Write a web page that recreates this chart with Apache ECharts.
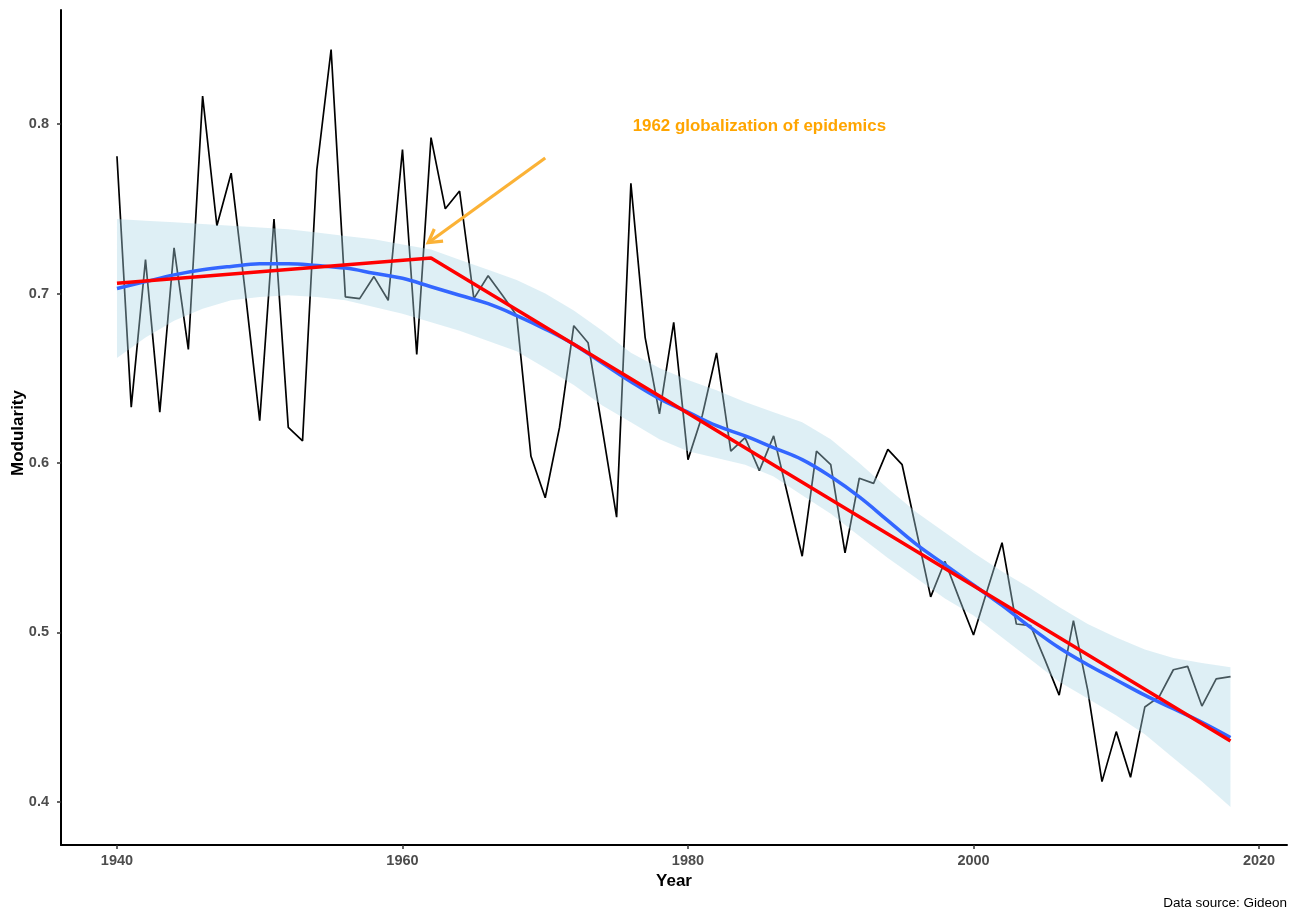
<!DOCTYPE html>
<html><head><meta charset="utf-8">
<script src="https://cdn.jsdelivr.net/npm/echarts@6/dist/echarts.min.js"></script>
<style>html,body{margin:0;padding:0;background:#fff}#c{width:1296px;height:910px}</style>
</head><body><div id="c"></div><script>
// ---- data ----
var years = [1940,1941,1942,1943,1944,1945,1946,1947,1948,1949,1950,1951,1952,1953,1954,1955,1956,1957,1958,1959,
 1960,1961,1962,1963,1964,1965,1966,1967,1968,1969,1970,1971,1972,1973,1974,1975,1976,1977,1978,1979,
 1980,1981,1982,1983,1984,1985,1986,1987,1988,1989,1990,1991,1992,1993,1994,1995,1996,1997,1998,1999,
 2000,2001,2002,2003,2004,2005,2006,2007,2008,2009,2010,2011,2012,2013,2014,2015,2016,2017,2018];
var modularity = [0.781,0.633,0.720,0.630,0.727,0.667,0.8165,0.740,0.771,0.700,0.625,0.744,0.621,0.613,0.773,0.844,0.698,0.697,0.710,0.696,
 0.785,0.664,0.792,0.750,0.7605,0.697,0.7105,0.699,0.687,0.604,0.5795,0.621,0.681,0.671,0.620,0.568,0.765,0.674,0.629,0.683,
 0.602,0.628,0.665,0.607,0.615,0.5955,0.616,0.5805,0.545,0.607,0.599,0.547,0.591,0.588,0.608,0.599,0.560,0.521,0.542,0.520,
 0.4985,0.526,0.553,0.505,0.504,0.484,0.463,0.507,0.466,0.412,0.4415,0.4146,0.456,0.462,0.478,0.480,0.4566,0.4726,0.474];

var smoothYears = [1940,1942,1944,1946,1948,1950,1952,1954,1956,1958,1960,1962,1964,1966,1968,1970,1972,1974,1976,1978,
 1980,1982,1984,1986,1988,1990,1992,1994,1996,1998,2000,2002,2004,2006,2008,2010,2012,2014,2016,2018];
var smoothFit = [0.703,0.707,0.711,0.714,0.716,0.7175,0.7176,0.7165,0.715,0.712,0.709,0.704,0.699,0.694,0.687,0.679,0.670,0.659,0.648,0.638,
 0.630,0.622,0.616,0.609,0.602,0.592,0.580,0.566,0.552,0.540,0.528,0.516,0.503,0.491,0.481,0.472,0.463,0.455,0.447,0.438];
var smoothUpper = [0.744,0.743,0.742,0.741,0.740,0.739,0.738,0.736,0.734,0.732,0.729,0.726,0.720,0.714,0.708,0.700,0.690,0.678,0.665,0.656,
 0.649,0.643,0.636,0.630,0.624,0.614,0.600,0.585,0.571,0.559,0.547,0.536,0.526,0.515,0.505,0.497,0.490,0.485,0.482,0.4795];
var smoothLower = [0.662,0.674,0.684,0.691,0.696,0.698,0.699,0.698,0.696,0.692,0.688,0.683,0.678,0.672,0.666,0.656,0.646,0.634,0.624,0.614,
 0.607,0.603,0.599,0.592,0.581,0.570,0.557,0.544,0.532,0.520,0.510,0.497,0.484,0.471,0.461,0.451,0.440,0.426,0.412,0.397];

var segYears = [1940,1962,2018];
var segFit = [0.706,0.721,0.436];

var xTicks = [1940,1960,1980,2000,2020];
var yTicks = [0.4,0.5,0.6,0.7,0.8];

var annText = '1962 globalization of epidemics';
var annX = 1985, annY = 0.7985;
var arrowFrom = [1970, 0.78], arrowTo = [1961.8, 0.73];

// ---- chart ----
var FONT = "'Liberation Sans', Arial, sans-serif";
function pairs(xs, ys){ var o=[]; for(var i=0;i<xs.length;i++) o.push([xs[i], ys[i]]); return o; }

var chart = echarts.init(document.getElementById('c'), null, {renderer:'canvas'});
var option = {
  animation:false,
  backgroundColor:'#fff',
  textStyle:{fontFamily:FONT},
  grid:{left:61, right:9, top:10, bottom:65, containLabel:false, outerBoundsMode:'none'},
  xAxis:{
    type:'value', min:1936.08, max:2021.96,
    name:'Year', nameLocation:'middle', nameGap:26,
    nameTextStyle:{fontFamily:FONT, fontSize:17, fontWeight:'bold', color:'#000'},
    axisLine:{show:true, onZero:false, lineStyle:{color:'#000', width:2}},
    axisTick:{show:true, length:4, customValues:xTicks, lineStyle:{color:'#333', width:1.5}},
    axisLabel:{customValues:xTicks, margin:8, fontFamily:FONT, fontSize:14.5, fontWeight:'bold', color:'#4d4d4d',
      formatter:function(v){return String(v);}},
    splitLine:{show:false}
  },
  yAxis:{
    type:'value', min:0.3746, max:0.8673,
    axisLine:{show:true, onZero:false, lineStyle:{color:'#000', width:2}},
    axisTick:{show:true, length:4, customValues:yTicks, lineStyle:{color:'#333', width:1.5}},
    axisLabel:{customValues:yTicks, margin:12, fontFamily:FONT, fontSize:14.5, fontWeight:'bold', color:'#4d4d4d',
      formatter:function(v){return v.toFixed(1);}},
    splitLine:{show:false}
  },
  series:[
    {type:'line', name:'modularity', data:pairs(years, modularity), showSymbol:false, z:2,
      lineStyle:{color:'#000', width:1.7}},
    {type:'custom', name:'ribbon', z:3, silent:true, clip:true, data:[[1940,0.7]],
      renderItem:function(params, api){
        var pts=[], i;
        for(i=0;i<smoothYears.length;i++) pts.push(api.coord([smoothYears[i], smoothUpper[i]]));
        for(i=smoothYears.length-1;i>=0;i--) pts.push(api.coord([smoothYears[i], smoothLower[i]]));
        return {type:'polygon', shape:{points:pts}, style:{fill:'rgba(173,216,230,0.4)'}};
      }},
    {type:'line', name:'loess', data:pairs(smoothYears, smoothFit), showSymbol:false, smooth:0.4, z:4,
      lineStyle:{color:'#3366FF', width:3.5}},
    {type:'line', name:'segmented', data:pairs(segYears, segFit), showSymbol:false, z:5,
      lineStyle:{color:'#FF0000', width:3.5}},
    {type:'custom', name:'arrow', z:6, silent:true, clip:false, data:[[arrowFrom[0], arrowFrom[1]]],
      renderItem:function(params, api){
        var a = api.coord(arrowFrom), b = api.coord(arrowTo);
        var ang = Math.atan2(a[1]-b[1], a[0]-b[0]);
        var L = 15, w = Math.PI/6;
        var h1 = [b[0]+L*Math.cos(ang+w), b[1]+L*Math.sin(ang+w)];
        var h2 = [b[0]+L*Math.cos(ang-w), b[1]+L*Math.sin(ang-w)];
        var st = {stroke:'#FBB236', lineWidth:3.2, fill:null, lineCap:'butt', lineJoin:'miter'};
        return {type:'group', children:[
          {type:'polyline', shape:{points:[a,b]}, style:st},
          {type:'polyline', shape:{points:[h1,b,h2]}, style:st}
        ]};
      }},
    {type:'custom', name:'annotation', z:7, silent:true, clip:false, data:[[annX, annY]],
      renderItem:function(params, api){
        var p = api.coord([annX, annY]);
        return {type:'text', x:p[0], y:p[1], style:{text:annText, fill:'#FFA500', font:'bold 16.9px ' + FONT,
          align:'center', verticalAlign:'middle'}};
      }}
  ],
  graphic:[
    {type:'text', x:18, y:433, rotation:Math.PI/2,
      style:{text:'Modularity', fill:'#000', font:'bold 17px ' + FONT, align:'center', verticalAlign:'middle'}},
    {type:'text', right:9, top:896, style:{text:'Data source: Gideon', fill:'#000', font:'13.5px ' + FONT}}
  ]
};
chart.setOption(option);
</script></body></html>
